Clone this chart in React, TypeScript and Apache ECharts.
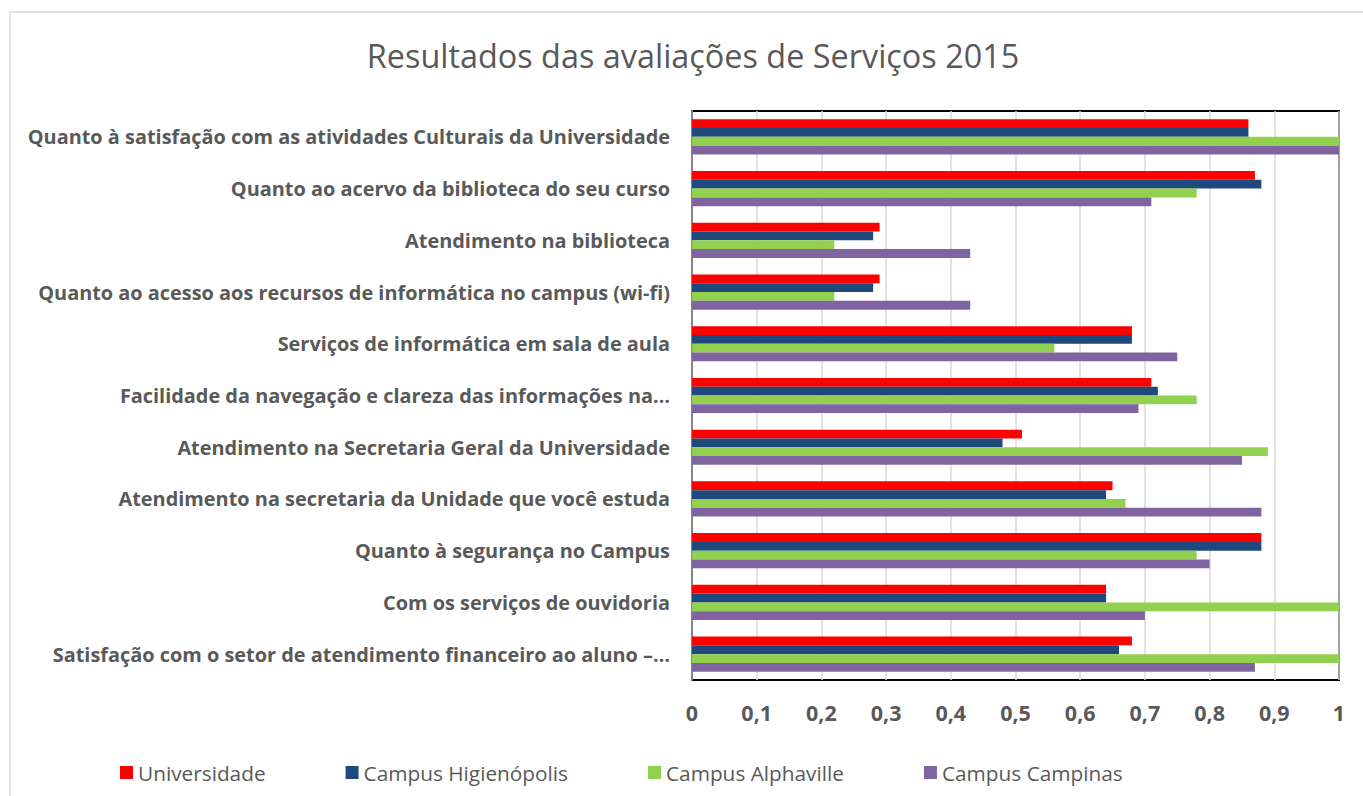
import React, { useEffect, useRef } from "react";
import * as echarts from "echarts";

const categories = [
  "Quanto à satisfação com as atividades Culturais da Universidade",
  "Quanto ao acervo da biblioteca do seu curso",
  "Atendimento na biblioteca",
  "Quanto ao acesso aos recursos de informática no campus (wi-fi)",
  "Serviços de informática em sala de aula",
  "Facilidade da navegação e clareza das informações na…",
  "Atendimento na Secretaria Geral da Universidade",
  "Atendimento na secretaria da Unidade que você estuda",
  "Quanto à segurança no Campus",
  "Com os serviços de ouvidoria",
  "Satisfação com o setor de atendimento financeiro ao aluno –…",
];

const seriesNames = ["Universidade", "Campus Higienópolis", "Campus Alphaville", "Campus Campinas"];

const universidade = [0.86, 0.87, 0.29, 0.29, 0.68, 0.71, 0.51, 0.65, 0.88, 0.64, 0.68];
const higienopolis = [0.86, 0.88, 0.28, 0.28, 0.68, 0.72, 0.48, 0.64, 0.88, 0.64, 0.66];
const alphaville = [1.0, 0.78, 0.22, 0.22, 0.56, 0.78, 0.89, 0.67, 0.78, 1.0, 1.0];
const campinas = [1.0, 0.71, 0.43, 0.43, 0.75, 0.69, 0.85, 0.88, 0.8, 0.7, 0.87];

const xTicks = { min: 0, max: 1, interval: 0.1 };

const colors = ["#ff0000", "#1f497d", "#92d050", "#8064a2"];

export default function App() {
  const ref = useRef<HTMLDivElement>(null);
  useEffect(() => {
    if (!ref.current) return;
    const chart = echarts.init(ref.current, null, { renderer: "svg" });
    const data = [universidade, higienopolis, alphaville, campinas];
    chart.setOption({
      animation: false,
      backgroundColor: "#ffffff",
      title: {
        text: "Resultados das avaliações de Serviços 2015",
        left: 688,
        textAlign: "center",
        top: 34,
        textStyle: { fontFamily: "Open Sans", fontSize: 32.4, fontWeight: "normal", color: "#595959" },
      },
      graphic: [
        {
          type: "rect",
          shape: { x: 10, y: 12, width: 1400, height: 900 },
          style: { fill: "none", stroke: "#d9d9d9", lineWidth: 1.5 },
          silent: true,
        },
      ],
      legend: {
        left: 115,
        top: 757,
        icon: "rect",
        itemWidth: 13,
        itemHeight: 13,
        itemGap: 80,
        textStyle: { fontFamily: "Open Sans", fontSize: 20.8, color: "#595959" },
        data: seriesNames,
      },
      grid: {
        left: 692,
        right: 24,
        top: 111,
        bottom: 116,
        show: true,
        borderColor: "#000000",
        borderWidth: 2,
        containLabel: false,
      },
      xAxis: {
        type: "value",
        min: xTicks.min,
        max: xTicks.max,
        interval: xTicks.interval,
        axisLine: { show: false },
        axisTick: { show: false },
        splitLine: { lineStyle: { color: "#d9d9d9", width: 1.5 } },
        axisLabel: {
          margin: 21,
          fontFamily: "Open Sans",
          fontSize: 21.5,
          fontWeight: "bold",
          color: "#595959",
          formatter: (v: number) => String(Math.round(v * 10) / 10).replace(".", ","),
        },
      },
      yAxis: {
        type: "category",
        inverse: true,
        data: categories,
        axisTick: { show: false },
        axisLine: { show: true, lineStyle: { color: "#868686", width: 2 } },
        axisLabel: {
          margin: 22,
          fontFamily: "Open Sans",
          fontSize: 19.9,
          fontWeight: "bold",
          color: "#595959",
        },
      },
      series: seriesNames.map((name, i) => ({
        name,
        type: "bar",
        data: data[i],
        barGap: "0%",
        barCategoryGap: "32%",
        itemStyle: { color: colors[i] },
      })),
    });
    return () => chart.dispose();
  }, []);
  return <div ref={ref} style={{ position: "fixed", left: 0, top: 0, width: 1363, height: 796 }} />;
}
